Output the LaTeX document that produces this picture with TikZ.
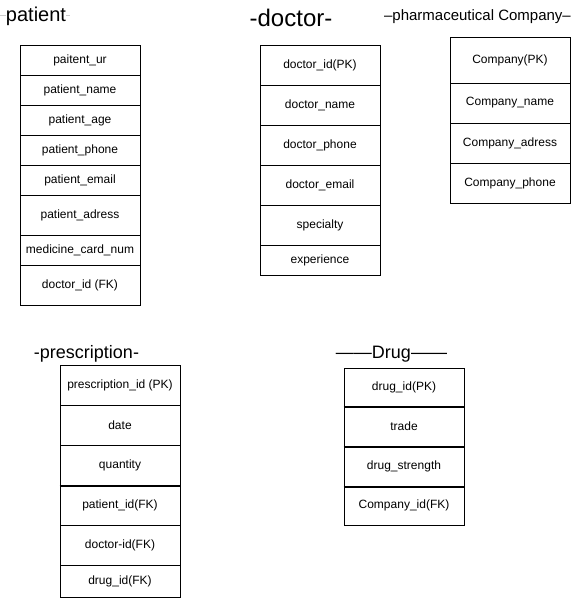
\documentclass[tikz,border=0pt]{standalone}
\usepackage{fontspec}
\setmainfont{Liberation Sans}
\begin{document}
\begin{tikzpicture}[x=1pt, y=-1pt]
    % Define styles
    \tikzset{
        cell/.style={
            draw,
            line width=1pt,
            minimum width=120pt,
            inner sep=0pt,
            font=\fontsize{12}{14}\selectfont
        },
        heading/.style={
            inner sep=0pt,
            anchor=base
        },
        sepline/.style={
            line width=2pt
        },
        tick/.style={
            draw=black!20,
            line width=0.8pt
        }
    }
    \useasboundingbox (0,0) rectangle (572,598);

    % Table 1: patient
    \node[heading, font=\fontsize{20}{24}\selectfont] (patT) at (36,21) {patient};
    \coordinate (patL) at (0,15.5);
    \draw[tick] (patL) -- (patT.west |- patL);
    \draw[tick] (patT.east |- patL) -- ++(4,0);
    \begin{scope}[shift={(80,0)}]
        \foreach \i/\y/\h/\txt in {1/60/30/paitent\_ur, 2/90/30/patient\_name, 3/120/30/patient\_age,
                4/150/30/patient\_phone, 5/180/30/patient\_email, 6/215/40/patient\_adress,
                7/250/30/medicine\_card\_num, 8/285/40/doctor\_id (FK)}
            \node[cell, minimum height=\h pt] (pat\i) at (0,\y) {\txt};
    \end{scope}

    % Table 2: doctor
    \node[heading, font=\fontsize{24}{28}\selectfont] (docT) at (291,26.5) {-doctor-};
    \begin{scope}[shift={(320,0)}]
        \foreach \i/\y/\h/\txt in {1/65/40/doctor\_id(PK), 2/105/40/doctor\_name, 3/145/40/doctor\_phone,
                4/185/40/doctor\_email, 5/225/40/specialty, 6/260/30/experience}
            \node[cell, minimum height=\h pt] (doc\i) at (0,\y) {\txt};
    \end{scope}

    % Table 3: pharmaceutical company
    \node[heading, font=\fontsize{15}{18}\selectfont] (comT) at (477.5,20.5) {–pharmaceutical Company–};
    \begin{scope}[shift={(510,0)}]
        \foreach \i/\y/\h/\txt in {1/60/46/Company(PK), 2/103/40/Company\_name,
                3/143/40/Company\_adress, 4/183/40/Company\_phone}
            \node[cell, minimum height=\h pt] (com\i) at (0,\y) {\txt};
    \end{scope}

    % Table 4: prescription
    \node[heading, font=\fontsize{18}{22}\selectfont] (preT) at (86.5,358) {-prescription-};
    \begin{scope}[shift={(120,0)}]
        \foreach \i/\y/\h/\txt in {1/385/40/prescription\_id (PK), 2/425/40/date, 3/465/40/quantity,
                4/505/40/patient\_id(FK), 5/545/40/doctor-id(FK), 6/581/32/drug\_id(FK)}
            \node[cell, minimum height=\h pt] (pre\i) at (0,\y) {\txt};
    \end{scope}
    \draw[sepline] (pre3.south west) -- (pre3.south east);

    % Table 5: drug
    \node[heading, font=\fontsize{18}{22}\selectfont] (drgT) at (391.5,358) {——Drug——};
    \begin{scope}[shift={(404,0)}]
        \foreach \i/\y/\h/\txt in {1/387/38/drug\_id(PK), 2/426/40/trade, 3/466/40/drug\_strength,
                4/505.5/39/Company\_id(FK)}
            \node[cell, minimum height=\h pt] (drg\i) at (0,\y) {\txt};
    \end{scope}
    \foreach \i in {1,2,3}
        \draw[sepline] (drg\i.south west) -- (drg\i.south east);

\end{tikzpicture}
\end{document}
